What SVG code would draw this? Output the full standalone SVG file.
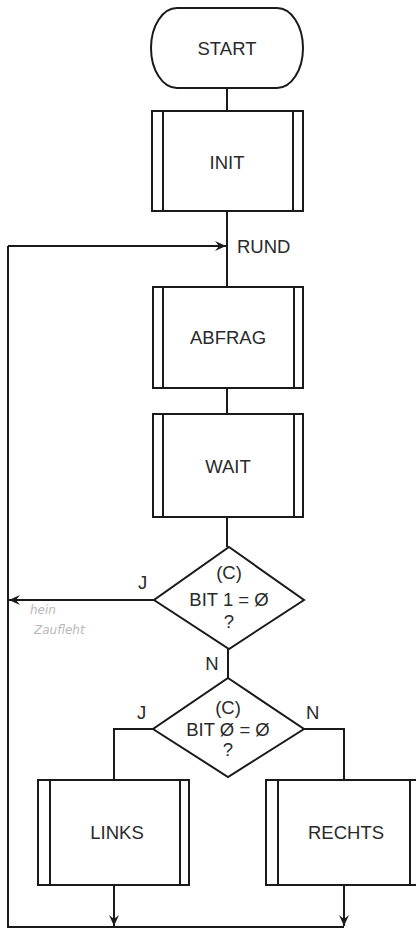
<svg xmlns="http://www.w3.org/2000/svg" width="416" height="929" viewBox="0 0 416 929">
<defs>
<style>
.s{fill:#fff;stroke:#1a1a1a;stroke-width:2}
.c{fill:none;stroke:#1a1a1a;stroke-width:2}
.t{font-family:"Liberation Sans",Arial,sans-serif;font-size:18.5px;fill:#2a2a2a;text-anchor:middle}
.l{font-family:"Liberation Sans",Arial,sans-serif;font-size:18.5px;fill:#2a2a2a}
.h{font-family:"DejaVu Sans",sans-serif;font-style:italic;font-size:12px;fill:#b8b8b8}
</style>
<marker id="a" markerWidth="12" markerHeight="10" refX="11" refY="5" orient="auto" markerUnits="userSpaceOnUse">
<path d="M0,0 L11,5 L0,10 L4,5 Z" fill="#1a1a1a"/>
</marker>
</defs>
<rect width="416" height="929" fill="#fff"/>
<g id="connectors">
<path class="c" d="M227,88 V111"/>
<path class="c" d="M227,211 V287"/>
<path class="c" d="M8,246 H226" marker-end="url(#a)"/>
<path class="c" d="M227,388 V414"/>
<path class="c" d="M227,517 V547"/>
<path class="c" d="M154,600 H9" marker-end="url(#a)"/>
<path class="c" d="M228,649 V678"/>
<path class="c" d="M153,729 H114 V780"/>
<path class="c" d="M304,729 H344 V780"/>
<path class="c" d="M114,885 V926" marker-end="url(#a)"/>
<path class="c" d="M344,885 V926" marker-end="url(#a)"/>
<path class="c" d="M344,927 H8 V246"/>
</g>
<g id="start">
<path class="s" d="M177,8 H277 A26,40 0 0 1 277,88 H177 A26,40 0 0 1 177,8 Z"/>
<text class="t" x="227" y="54.5">START</text>
</g>
<g id="init">
<rect class="s" x="152" y="111" width="151" height="100"/>
<path class="c" d="M163,111 V211 M293,111 V211"/>
<text class="t" x="227" y="168.5">INIT</text>
</g>
<g id="rund">
<text class="l" x="237" y="252.5">RUND</text>
</g>
<g id="abfrag">
<rect class="s" x="153" y="287" width="150" height="101"/>
<path class="c" d="M163,287 V388 M294,287 V388"/>
<text class="t" x="228" y="344">ABFRAG</text>
</g>
<g id="wait">
<rect class="s" x="153" y="414" width="150" height="103"/>
<path class="c" d="M163,414 V517 M294,414 V517"/>
<text class="t" x="228" y="472.5">WAIT</text>
</g>
<g id="dec1">
<path class="s" d="M229,547 L304,600 L229,649 L154,600 Z"/>
<text class="t" x="229" y="579">(C)</text>
<text class="t" x="229" y="605.5">BIT 1 = Ø</text>
<text class="t" x="229" y="628">?</text>
<text class="l" x="138" y="589">J</text>
<text class="t" x="212" y="669.5">N</text>
<text class="h" x="30" y="614">hein</text>
<text class="h" x="34" y="634">Zaufleht</text>
</g>
<g id="dec2">
<path class="s" d="M228,678 L304,729 L228,777 L153,729 Z"/>
<text class="t" x="228" y="714">(C)</text>
<text class="t" x="228" y="735.5">BIT Ø = Ø</text>
<text class="t" x="228" y="756">?</text>
<text class="l" x="137" y="719">J</text>
<text class="l" x="306" y="719">N</text>
</g>
<g id="links">
<rect class="s" x="38" y="780" width="151" height="105"/>
<path class="c" d="M50,780 V885 M180,780 V885"/>
<text class="t" x="117" y="838.5">LINKS</text>
</g>
<g id="rechts">
<rect class="s" x="266" y="780" width="156" height="105"/>
<path class="c" d="M278,780 V885 M410,780 V885"/>
<text class="t" x="346" y="838.5">RECHTS</text>
</g>
</svg>
